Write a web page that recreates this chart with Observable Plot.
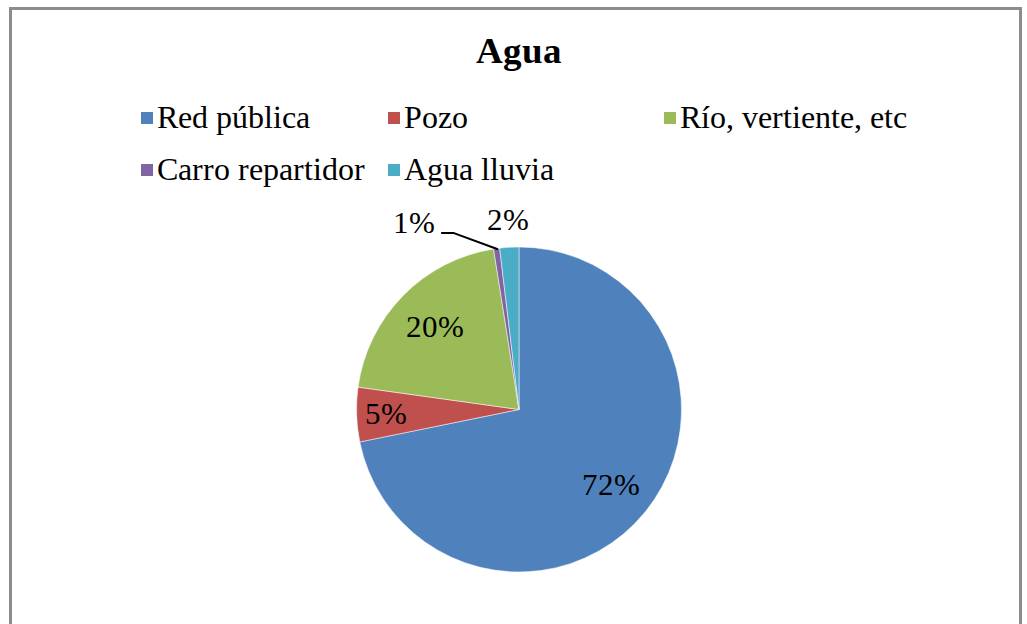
<!DOCTYPE html>
<html>
<head>
<meta charset="utf-8">
<script src="https://cdn.jsdelivr.net/npm/d3@7"></script>
<script src="https://cdn.jsdelivr.net/npm/@observablehq/plot@0.6"></script>
<style>
  @font-face { font-family: "RefSerif"; font-weight: 400; font-style: normal;
    src: local("Liberation Serif"), local("LiberationSerif"), local("LiberationSerif-Regular"), local("Liberation Serif Regular"); }
  @font-face { font-family: "RefSerif"; font-weight: 700; font-style: normal;
    src: local("Liberation Serif Bold"), local("LiberationSerif-Bold"); }
  html, body { margin: 0; padding: 0; background: #fff; }
  body { width: 1027px; height: 624px; overflow: hidden; position: relative; color: #000;
         font-family: "RefSerif", "Liberation Serif"; }
  #frame { position: absolute; left: 9px; top: 7px; width: 1013px; height: 700px;
           border: 3px solid #8c8c8c; box-sizing: border-box; }
  #chart { position: absolute; left: 0; top: 0; }
  #title { position: absolute; left: 0; top: 32px; width: 1038px; text-align: center;
           font-weight: bold; font-size: 37px; line-height: 37px; font-family: "RefSerif", "Liberation Serif"; }
  .leg { position: absolute; font-size: 32px; line-height: 32px; white-space: nowrap;
         font-family: "RefSerif", "Liberation Serif"; }
  .sw { position: absolute; width: 12px; height: 12px; }
</style>
</head>
<body>
<div id="frame"></div>
<div id="chart"></div>
<div id="title">Agua</div>
<div id="legend"></div>
<script>
// ---- data ----
const categories = ["Red pública", "Pozo", "Río, vertiente, etc", "Carro repartidor", "Agua lluvia"];
const values = [71.8, 5.4, 20.3, 0.6, 1.9];
const labels = ["72%", "5%", "20%", "1%", "2%"];
const colors = ["#4F81BD", "#C0504D", "#9BBB59", "#8064A2", "#4BACC6"];

const FONT = "RefSerif, Liberation Serif";
const data = categories.map((c, i) => ({category: c, value: values[i], label: labels[i], color: colors[i]}));
const arcs = d3.pie().sort(null).value(d => d.value)(data);

// label placement (unit circle coords, y up)
const inside = [], outside = [], leaders = [];
arcs.forEach((a, i) => {
  const mid = (a.startAngle + a.endAngle) / 2;
  const v = a.data.value;
  if (v >= 10) {
    inside.push({x: 0.73 * Math.sin(mid), y: 0.73 * Math.cos(mid), label: a.data.label});
  } else if (v >= 3) {
    inside.push({x: 0.82 * Math.sin(mid), y: 0.82 * Math.cos(mid), label: a.data.label});
  } else if (v >= 1.5) {
    outside.push({x: 1.17 * Math.sin(mid), y: 1.17, label: a.data.label});
  } else {
    const ex = Math.sin(mid), ey = Math.cos(mid);
    const elbow = {x: ex - 0.27, y: 1.09};
    const end = {x: elbow.x - 0.07, y: 1.09};
    leaders.push({x: ex, y: ey, k: i}, {x: elbow.x, y: elbow.y, k: i}, {x: end.x, y: end.y, k: i});
    outside.push({x: end.x - 0.17, y: 1.15, label: a.data.label});
  }
});

function pieMark(index, scales) {
  const cx = scales.x(0), cy = scales.y(0), r = scales.x(1) - scales.x(0);
  const g = d3.create("svg:g").attr("transform", `translate(${cx},${cy})`);
  const arc = d3.arc().innerRadius(0).outerRadius(r);
  g.selectAll("path").data(arcs).join("path")
    .attr("d", arc)
    .attr("fill", d => d.data.color)
    .attr("stroke", "#ffffff")
    .attr("stroke-width", 0.5);
  return g.node();
}

const plot = Plot.plot({
  width: 1027,
  height: 624,
  margin: 0,
  style: {background: "transparent", overflow: "visible"},
  x: {domain: [-1, 1], range: [356.5, 681.5], axis: null},
  y: {domain: [-1, 1], range: [572, 247], axis: null},
  marks: [
    pieMark,
    Plot.line(leaders, {x: "x", y: "y", z: "k", stroke: "#000", strokeWidth: 2}),
    Plot.text(inside.concat(outside), {
      x: "x", y: "y", text: "label",
      fontSize: 31, fontFamily: FONT,
      fill: "#000", textAnchor: "middle", lineAnchor: "middle"
    })
  ]
});
plot.querySelectorAll("text").forEach(t => { t.style.fontFamily = FONT; });
document.getElementById("chart").appendChild(plot);

// legend
const legend = document.getElementById("legend");
const legPos = [
  {x: 157, y: 101}, {x: 404, y: 101}, {x: 680, y: 101},
  {x: 157, y: 153}, {x: 404, y: 153}
];
data.forEach((d, i) => {
  const p = legPos[i];
  const sw = document.createElement("div");
  sw.className = "sw";
  sw.style.left = (p.x - 16) + "px";
  sw.style.top = (p.y + 11) + "px";
  sw.style.background = d.color;
  legend.appendChild(sw);
  const t = document.createElement("div");
  t.className = "leg";
  t.style.left = p.x + "px";
  t.style.top = p.y + "px";
  t.textContent = d.category;
  legend.appendChild(t);
});
</script>
</body>
</html>
